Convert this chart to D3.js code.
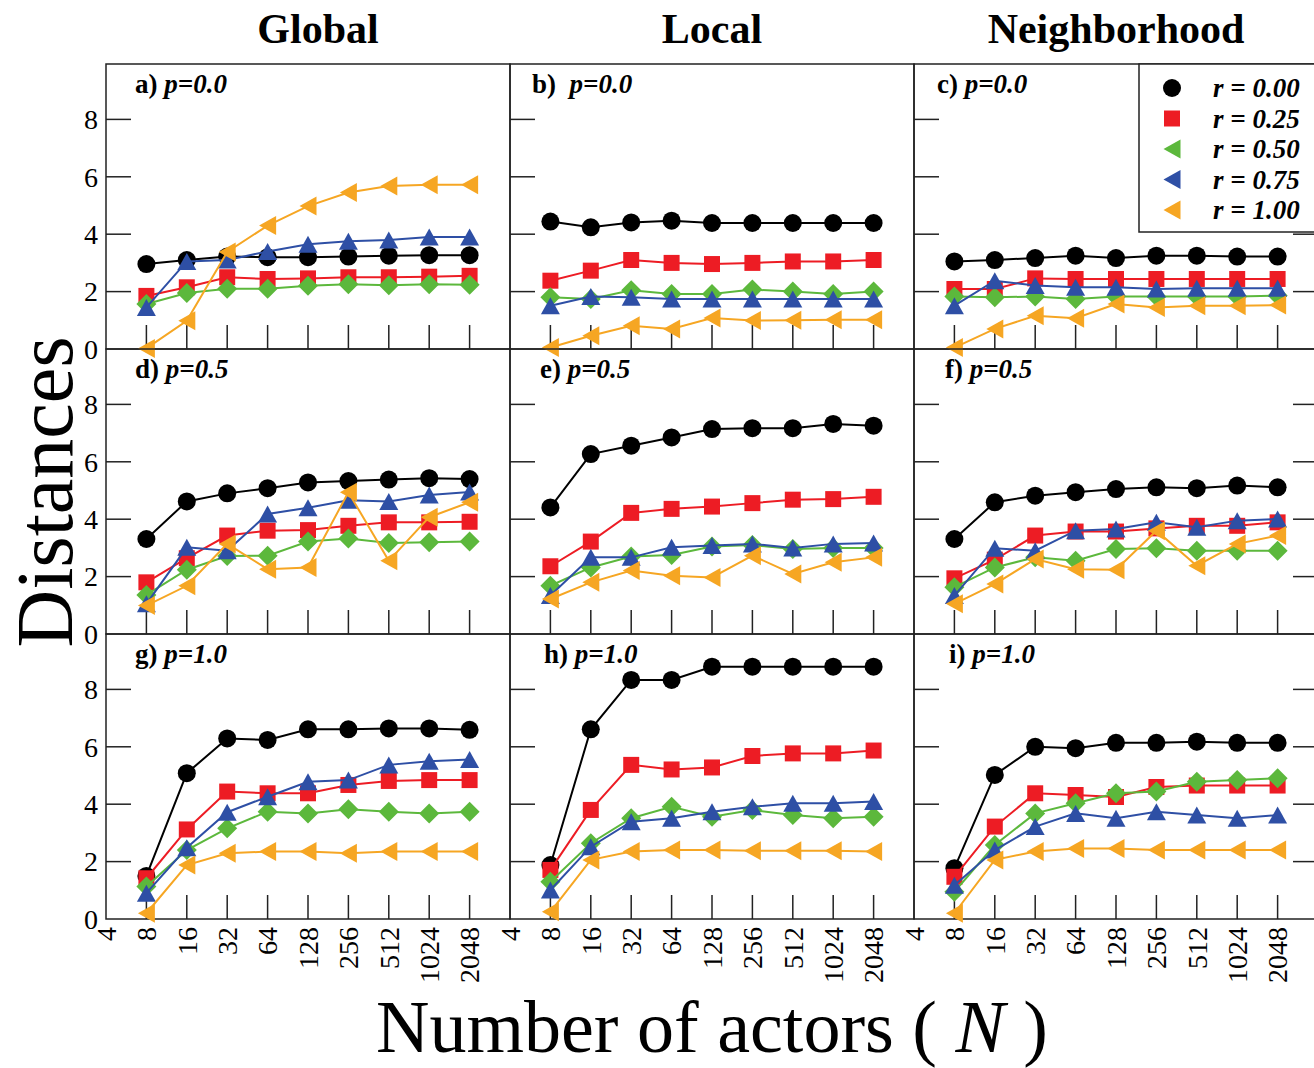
<!DOCTYPE html>
<html>
<head>
<meta charset="utf-8">
<script src="https://cdn.jsdelivr.net/npm/d3@7"></script>
<style>
  body { margin: 0; background: #fff; }
  svg { display: block; font-family: "Liberation Serif", "Times New Roman", serif; }
</style>
</head>
<body>
<div id="chart"></div>
<script>
// x values (number of actors)
var actors = [8, 16, 32, 64, 128, 256, 512, 1024, 2048];
var xTickLabels = [4, 8, 16, 32, 64, 128, 256, 512, 1024, 2048];
var yTickLabels = [0, 2, 4, 6, 8];

var columnTitles = ["Global", "Local", "Neighborhood"];
var panelLetters = ["a)", "b)", "c)", "d)", "e)", "f)", "g)", "h)", "i)"];
var pLabels = ["p=0.0", "p=0.5", "p=1.0"];
var rLabels = ["r = 0.00", "r = 0.25", "r = 0.50", "r = 0.75", "r = 1.00"];

// each panel: series for r = 0.00, 0.25, 0.50, 0.75, 1.00
var globalP00 = [
  [2.96, 3.1, 3.22, 3.2, 3.2, 3.22, 3.25, 3.27, 3.27],
  [1.85, 2.15, 2.5, 2.44, 2.46, 2.5, 2.5, 2.52, 2.55],
  [1.57, 1.95, 2.1, 2.1, 2.2, 2.26, 2.22, 2.26, 2.24],
  [1.45, 3.05, 3.1, 3.4, 3.65, 3.75, 3.8, 3.9, 3.9],
  [0.02, 0.98, 3.38, 4.3, 4.98, 5.45, 5.68, 5.72, 5.72]
];
var localP00 = [
  [4.44, 4.24, 4.41, 4.47, 4.39, 4.39, 4.39, 4.39, 4.39],
  [2.38, 2.73, 3.1, 3.0, 2.96, 3.0, 3.05, 3.05, 3.1],
  [1.8, 1.74, 2.05, 1.92, 1.92, 2.07, 2.0, 1.92, 2.0],
  [1.51, 1.83, 1.8, 1.74, 1.74, 1.74, 1.74, 1.74, 1.74],
  [0.05, 0.46, 0.81, 0.7, 1.08, 0.99, 1.0, 1.02, 1.02]
];
var neighP00 = [
  [3.05, 3.1, 3.17, 3.25, 3.17, 3.25, 3.25, 3.22, 3.22],
  [2.09, 2.09, 2.46, 2.44, 2.44, 2.44, 2.44, 2.44, 2.44],
  [1.83, 1.8, 1.83, 1.74, 1.83, 1.83, 1.83, 1.83, 1.86],
  [1.51, 2.38, 2.21, 2.15, 2.15, 2.09, 2.12, 2.12, 2.12],
  [0.05, 0.7, 1.16, 1.07, 1.57, 1.45, 1.51, 1.51, 1.53]
];
var globalP05 = [
  [3.31, 4.62, 4.9, 5.08, 5.28, 5.33, 5.38, 5.43, 5.4],
  [1.8, 2.64, 3.43, 3.6, 3.62, 3.77, 3.89, 3.89, 3.91],
  [1.36, 2.24, 2.72, 2.73, 3.22, 3.33, 3.17, 3.2, 3.22],
  [1.05, 3.02, 2.9, 4.18, 4.4, 4.66, 4.62, 4.84, 4.95],
  [0.99, 1.68, 3.14, 2.26, 2.32, 4.94, 2.55, 4.07, 4.59]
];
var localP05 = [
  [4.41, 6.27, 6.56, 6.85, 7.14, 7.17, 7.17, 7.32, 7.26],
  [2.36, 3.22, 4.22, 4.36, 4.44, 4.56, 4.68, 4.7, 4.78],
  [1.68, 2.32, 2.7, 2.75, 3.05, 3.1, 2.96, 3.0, 3.0],
  [1.34, 2.67, 2.67, 3.02, 3.08, 3.14, 3.0, 3.14, 3.17],
  [1.22, 1.8, 2.21, 2.03, 1.97, 2.73, 2.09, 2.5, 2.67]
];
var neighP05 = [
  [3.31, 4.59, 4.82, 4.94, 5.05, 5.11, 5.08, 5.17, 5.11],
  [1.94, 2.59, 3.43, 3.57, 3.57, 3.68, 3.77, 3.77, 3.89],
  [1.63, 2.32, 2.67, 2.55, 2.96, 2.99, 2.9, 2.9, 2.9],
  [1.34, 2.99, 2.9, 3.6, 3.66, 3.89, 3.72, 3.95, 4.01],
  [1.05, 1.74, 2.61, 2.26, 2.24, 3.6, 2.38, 3.14, 3.43]
];
var globalP10 = [
  [1.5, 5.08, 6.29, 6.24, 6.61, 6.61, 6.64, 6.64, 6.59],
  [1.42, 3.12, 4.44, 4.38, 4.38, 4.67, 4.81, 4.84, 4.84],
  [1.13, 2.4, 3.16, 3.74, 3.68, 3.82, 3.74, 3.68, 3.74],
  [0.9, 2.48, 3.72, 4.26, 4.78, 4.84, 5.37, 5.5, 5.56],
  [0.2, 1.88, 2.29, 2.35, 2.35, 2.29, 2.35, 2.35, 2.35]
];
var localP10 = [
  [1.88, 6.61, 8.33, 8.33, 8.79, 8.79, 8.79, 8.79, 8.79],
  [1.71, 3.8, 5.37, 5.21, 5.28, 5.68, 5.77, 5.77, 5.87],
  [1.3, 2.64, 3.51, 3.91, 3.56, 3.8, 3.62, 3.51, 3.56],
  [1.01, 2.52, 3.39, 3.51, 3.74, 3.91, 4.03, 4.03, 4.09],
  [0.25, 2.06, 2.35, 2.4, 2.4, 2.38, 2.38, 2.38, 2.35]
];
var neighP10 = [
  [1.77, 5.02, 6.0, 5.95, 6.14, 6.14, 6.18, 6.14, 6.14],
  [1.47, 3.22, 4.38, 4.32, 4.25, 4.6, 4.65, 4.65, 4.65],
  [0.95, 2.58, 3.68, 4.03, 4.38, 4.44, 4.78, 4.84, 4.9],
  [1.18, 2.4, 3.22, 3.68, 3.51, 3.74, 3.62, 3.51, 3.62],
  [0.2, 2.06, 2.35, 2.46, 2.46, 2.4, 2.4, 2.4, 2.4]
];

var panels = [globalP00, localP00, neighP00,
              globalP05, localP05, neighP05,
              globalP10, localP10, neighP10];

var colors = ["#000000", "#ed1c24", "#5cb83c", "#2e4fa5", "#f6a623"];
var shapes = ["circle", "square", "diamond", "up", "left"];
var legendShapes = ["circle", "square", "left", "left", "left"];

var width = 1314, height = 1068;
var left0 = 106, top0 = 64, pw = 404, ph = 285;

var svg = d3.select("#chart").append("svg")
  .attr("width", width)
  .attr("height", height);

svg.append("rect").attr("width", width).attr("height", height).attr("fill", "#fff");

var x = d3.scaleLog().base(2).domain([4, 4096]).range([0, pw]);
var y = d3.scaleLinear().domain([0, 9.93]).range([ph, 0]);

// marker paths, centred on 0,0
function markerPath(shape) {
  if (shape == "circle") return "M-9,0A9,9 0 1,0 9,0A9,9 0 1,0 -9,0Z";
  if (shape == "square") return "M-8,-8H8V8H-8Z";
  if (shape == "diamond") return "M0,-10L10,0L0,10L-10,0Z";
  if (shape == "up") return "M0,-8.5L9.5,8.5L-9.5,8.5Z";
  return "M-8.5,0L8.5,-9.5L8.5,9.5Z";
}

var line = d3.line()
  .x(function(d, i) { return x(actors[i]); })
  .y(function(d) { return y(d); });

panels.forEach(function(series, k) {
  var col = k % 3, row = Math.floor(k / 3);
  var g = svg.append("g")
    .attr("transform", "translate(" + (left0 + col * pw) + "," + (top0 + row * ph) + ")");

  g.append("rect")
    .attr("width", pw).attr("height", ph)
    .attr("fill", "none").attr("stroke", "#222").attr("stroke-width", 1.5);

  // inner ticks
  g.selectAll(".yt").data(yTickLabels.slice(1)).enter().append("line")
    .attr("x1", 0).attr("x2", 25)
    .attr("y1", function(d) { return y(d); }).attr("y2", function(d) { return y(d); })
    .attr("stroke", "#222").attr("stroke-width", 1.5);
  if (col == 2) {
    g.selectAll(".yr").data(yTickLabels.slice(1)).enter().append("line")
      .attr("x1", pw - 25).attr("x2", pw)
      .attr("y1", function(d) { return y(d); }).attr("y2", function(d) { return y(d); })
      .attr("stroke", "#222").attr("stroke-width", 1.5);
  }
  g.selectAll(".xt").data(xTickLabels.slice(1)).enter().append("line")
    .attr("x1", function(d) { return x(d); }).attr("x2", function(d) { return x(d); })
    .attr("y1", ph).attr("y2", ph - 24)
    .attr("stroke", "#222").attr("stroke-width", 1.5);

  if (col == 0) {
    g.selectAll(".yl").data(yTickLabels).enter().append("text")
      .attr("x", -8).attr("y", function(d) { return y(d); })
      .attr("dy", "0.35em")
      .attr("text-anchor", "end")
      .style("font-size", "28px")
      .text(function(d) { return d; });
  }
  if (row == 2) {
    g.selectAll(".xl").data(xTickLabels).enter().append("text")
      .attr("transform", function(d) { return "translate(" + x(d) + "," + (ph + 8) + ") rotate(-90)"; })
      .attr("dy", "0.35em")
      .attr("text-anchor", "end")
      .style("font-size", "28px")
      .text(function(d) { return d; });
  }

  series.forEach(function(vals, s) {
    g.append("path")
      .datum(vals)
      .attr("d", line)
      .attr("fill", "none")
      .attr("stroke", colors[s])
      .attr("stroke-width", 2);
    g.selectAll(".m" + s).data(vals).enter().append("path")
      .attr("d", markerPath(shapes[s]))
      .attr("transform", function(d, i) { return "translate(" + x(actors[i]) + "," + y(d) + ")"; })
      .attr("fill", colors[s]);
  });

  var lab = g.append("text")
    .attr("x", [29, 22, 23][col] + (row == 1 && col > 0 ? 8 : 0) + (row == 2 && col > 0 ? 12 : 0))
    .attr("y", 29)
    .style("font-size", "27px")
    .style("font-weight", "bold");
  lab.append("tspan").text(panelLetters[k] + (k == 1 ? "\u00a0\u00a0" : " "));
  lab.append("tspan").style("font-style", "italic").text(pLabels[row]);
});

// column titles
svg.selectAll(".title").data(columnTitles).enter().append("text")
  .attr("x", function(d, i) { return left0 + i * pw + pw / 2 + (i == 0 ? 10 : 0); })
  .attr("y", 43)
  .attr("text-anchor", "middle")
  .style("font-size", "42px")
  .style("font-weight", "bold")
  .text(function(d) { return d; });

// legend
var leg = svg.append("g").attr("transform", "translate(1139," + top0 + ")");
leg.append("rect")
  .attr("width", 190).attr("height", 168)
  .attr("fill", "#fff").attr("stroke", "#222").attr("stroke-width", 1.5);
rLabels.forEach(function(t, i) {
  var ly = 24 + i * 30.5;
  leg.append("path")
    .attr("d", markerPath(legendShapes[i]))
    .attr("transform", "translate(33," + ly + ")")
    .attr("fill", colors[i]);
  leg.append("text")
    .attr("x", 74).attr("y", ly)
    .attr("dy", "0.35em")
    .style("font-size", "27px")
    .style("font-weight", "bold")
    .style("font-style", "italic")
    .text(t);
});

// axis titles
svg.append("text")
  .attr("transform", "translate(72,492) rotate(-90)")
  .attr("text-anchor", "middle")
  .style("font-size", "80px")
  .text("Distances");

var xt = svg.append("text")
  .attr("x", 712).attr("y", 1052)
  .attr("text-anchor", "middle")
  .style("font-size", "74px");
xt.append("tspan").text("Number of actors ( ");
xt.append("tspan").style("font-style", "italic").text("N");
xt.append("tspan").text(" )");
</script>
</body>
</html>
